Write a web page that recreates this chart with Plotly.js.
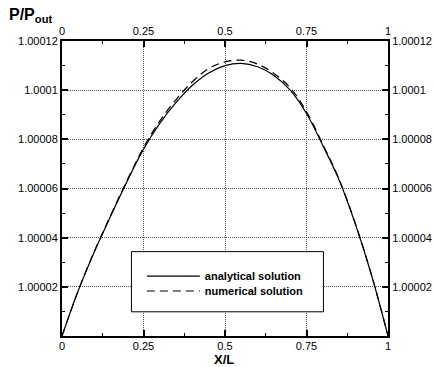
<!DOCTYPE html>
<html>
<head>
<meta charset="utf-8">
<script src="https://cdn.plot.ly/plotly-3.0.1.min.js"></script>
<style>
html,body{margin:0;padding:0;background:#fff;}
#chart{width:435px;height:367px;}
</style>
</head>
<body>
<div id="chart"></div>
<script>
// X/L positions
const xPos = [0, 0.05, 0.1, 0.15, 0.2, 0.25, 0.3, 0.35, 0.4, 0.45, 0.5, 0.55, 0.6, 0.65, 0.7, 0.75, 0.8, 0.85, 0.9, 0.95, 1];
// P/Pout, analytical solution
const analytical = [1.0, 1.0000185, 1.0000345, 1.000049, 1.000063, 1.000076, 1.0000865, 1.000095, 1.000102, 1.000107, 1.00011, 1.0001109, 1.0001095, 1.000106, 1.0001, 1.0000905, 1.0000775, 1.0000635, 1.0000455, 1.0000245, 1.0];
// P/Pout, numerical solution
const numerical = [1.0, 1.0000185, 1.0000347, 1.0000493, 1.0000634, 1.0000766, 1.0000875, 1.0000962, 1.0001034, 1.0001088, 1.0001115, 1.0001122, 1.0001106, 1.0001068, 1.000101, 1.0000912, 1.000078, 1.0000638, 1.0000457, 1.0000246, 1.0];
const seriesNames = ["analytical solution", "numerical solution"];
const xTickVals = [0, 0.25, 0.5, 0.75, 1];
const xTickText = ["0", "0.25", "0.5", "0.75", "1"];
const yTickVals = [1.00002, 1.00004, 1.00006, 1.00008, 1.0001, 1.00012];
const yTickText = ["1.00002", "1.00004", "1.00006", "1.00008", "1.0001", "1.00012"];

const font = "Liberation Sans, Arial, sans-serif";

const traces = [
  {x: xPos, y: analytical, name: seriesNames[0], mode: "lines", legend: "legend",
   line: {color: "#000", width: 1.2, shape: "spline", smoothing: 1}},
  {x: xPos, y: numerical, name: seriesNames[1], mode: "lines", legend: "legend2",
   line: {color: "#000", width: 1.2, dash: "8px,5px", shape: "spline", smoothing: 1}},
  // carrier for the mirrored top/right axes (fully transparent)
  {x: xPos, y: analytical, xaxis: "x2", yaxis: "y2", mode: "lines", showlegend: false,
   hoverinfo: "skip", opacity: 0, line: {color: "rgba(0,0,0,0)", width: 0}}
];

const minorX = {tickmode: "linear", tick0: 0, dtick: 0.125, ticks: "inside", ticklen: 3, tickcolor: "#000", tickwidth: 1, showgrid: false};
const minorY = {tickmode: "linear", tick0: 1.0, dtick: 0.00001, ticks: "inside", ticklen: 3, tickcolor: "#000", tickwidth: 1, showgrid: false};

const axCommon = {
  showline: true, linecolor: "#000", linewidth: 2, mirror: false,
  ticks: "inside", ticklen: 6, tickwidth: 2, tickcolor: "#000",
  zeroline: false, tickfont: {family: font, size: 11, color: "#000"},
  tickmode: "array"
};
const gridCommon = {showgrid: true, gridcolor: "#555", griddash: "1px,1px", gridwidth: 1};

const legendCommon = {xanchor: "left", yanchor: "middle", bgcolor: "rgba(0,0,0,0)",
  borderwidth: 0, itemwidth: 53,
  font: {family: font, size: 11, color: "#000", weight: "bold"}};

const layout = {
  width: 435, height: 367,
  margin: {l: 62, r: 47, t: 41, b: 31},
  paper_bgcolor: "#fff", plot_bgcolor: "#fff",
  showlegend: true,
  legend: Object.assign({}, legendCommon, {x: 0.245, y: 0.203}),
  legend2: Object.assign({}, legendCommon, {x: 0.245, y: 0.1525}),
  xaxis: Object.assign({}, axCommon, gridCommon, {
    range: [0, 1], tickvals: xTickVals, ticktext: xTickText, minor: minorX,
    ticklabelstandoff: -1
  }),
  xaxis2: Object.assign({}, axCommon, {
    range: [0, 1], tickvals: xTickVals, ticktext: xTickText,
    overlaying: "x", side: "top", anchor: "y2", showgrid: false, minor: minorX
  }),
  yaxis: Object.assign({}, axCommon, gridCommon, {
    range: [1.0, 1.00012], tickvals: yTickVals, ticktext: yTickText, minor: minorY
  }),
  yaxis2: Object.assign({}, axCommon, {
    range: [1.0, 1.00012], tickvals: yTickVals, ticktext: yTickText,
    overlaying: "y", side: "right", anchor: "x2", showgrid: false, minor: minorY
  }),
  shapes: [
    {type: "rect", xref: "paper", yref: "paper", x0: 0.213, x1: 0.802, y0: 0.082, y1: 0.286,
     fillcolor: "#fff", line: {color: "#000", width: 1}, layer: "above"}
  ],
  annotations: [
    {xref: "paper", yref: "paper", x: -0.169, y: 1.085, xanchor: "left", yanchor: "middle",
     text: "<b>P/P<sub>out</sub></b>", showarrow: false,
     font: {family: font, size: 16, color: "#000"}},
    {xref: "paper", yref: "paper", x: 0.497, y: -0.08, xanchor: "center", yanchor: "middle",
     text: "<b>X/L</b>", showarrow: false,
     font: {family: font, size: 13, color: "#000"}}
  ]
};

Plotly.newPlot("chart", traces, layout, {staticPlot: true, displayModeBar: false});
</script>
</body>
</html>
